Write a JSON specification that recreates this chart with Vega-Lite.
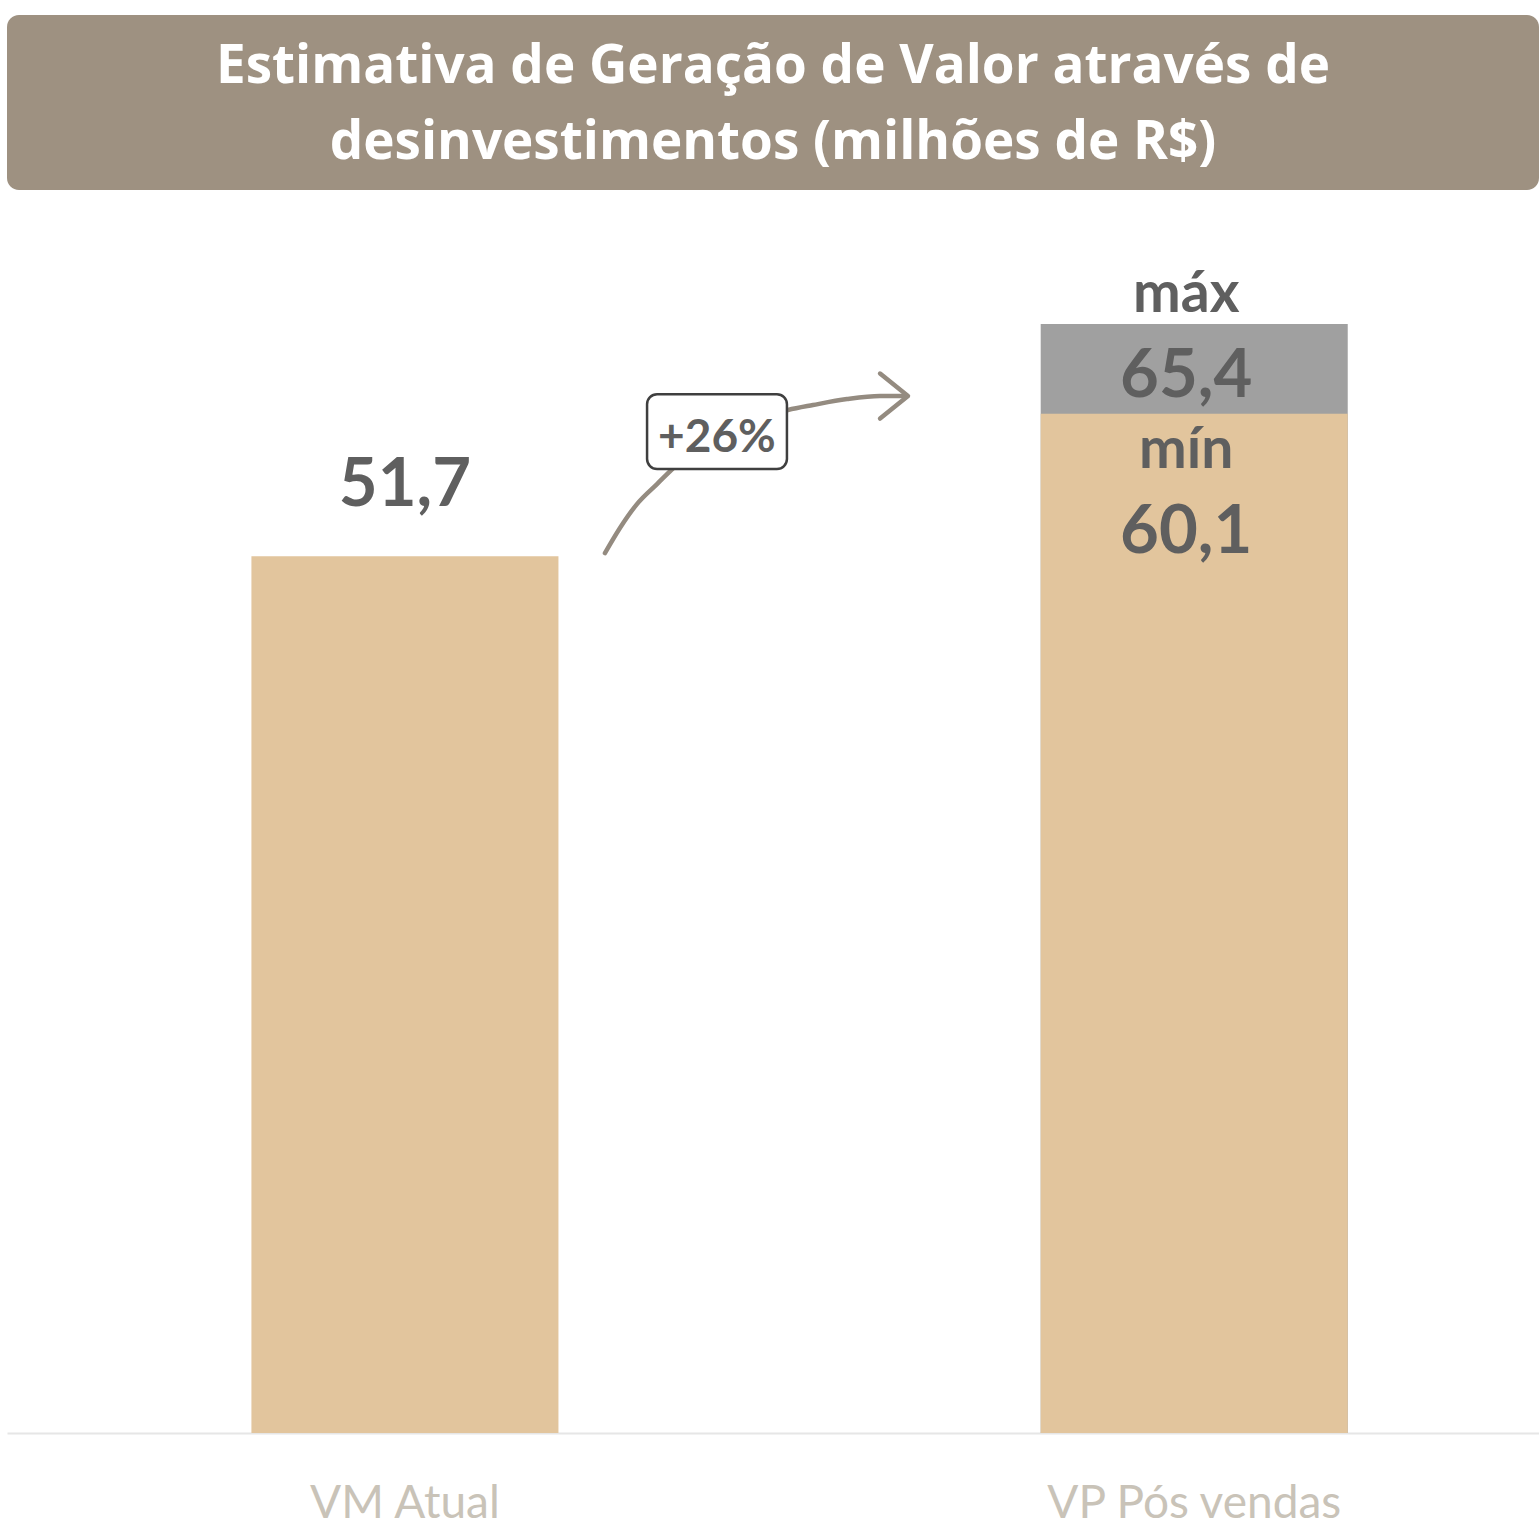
{
  "$schema": "https://vega.github.io/schema/vega-lite/v6.json",
  "background": "white",
  "padding": {"left": 7, "top": 15, "right": 0, "bottom": 0},
  "spacing": 0,
  "config": {
    "view": {"stroke": null},
    "locale": {"number": {"decimal": ",", "thousands": ".", "grouping": [3], "currency": ["R$ ", ""]}}
  },
  "vconcat": [
    {
      "width": 1532,
      "height": 175,
      "view": {"fill": "#9e9181", "stroke": null, "cornerRadius": 12},
      "data": {"values": [{"titulo": "Estimativa de Geração de Valor através de desinvestimentos (milhões de R$)"}]},
      "mark": {
        "type": "text",
        "text": ["Estimativa de Geração de Valor através de", "desinvestimentos (milhões de R$)"],
        "font": "Open Sans",
        "fontWeight": "bold",
        "fontSize": 53,
        "lineHeight": 76,
        "color": "white",
        "align": "center",
        "baseline": "middle",
        "dy": -36
      }
    },
    {
      "width": 1532,
      "height": 1243,
      "resolve": {"scale": {"x": "independent"}},
      "layer": [
        {
          "data": {"values": [
            {"categoria": "VM Atual", "faixa": "atual", "valor": 51.7},
            {"categoria": "VP Pós vendas", "faixa": "máx", "valor": 65.4},
            {"categoria": "VP Pós vendas", "faixa": "mín", "valor": 60.1}
          ]},
          "encoding": {
            "x": {
              "field": "categoria", "type": "nominal", "sort": null,
              "scale": {"domain": ["VM Atual", "VP Pós vendas"], "paddingInner": 0.611, "paddingOuter": 0.276, "align": 0.561},
              "axis": {
                "title": null, "labelAngle": 0, "labelFont": "Lato", "labelFontSize": 46, "labelLimit": 800,
                "labelColor": "#c9c3b8", "labelPadding": 48, "ticks": false, "tickSize": 0,
                "domainColor": "#e6e6e6", "domainWidth": 2, "grid": false, "labelBaseline": "top"
              }
            },
            "y": {"field": "valor", "type": "quantitative", "stack": null, "scale": {"domain": [0, 73.3], "nice": false, "zero": true}, "axis": null}
          },
          "layer": [
            {
              "mark": {"type": "bar", "stroke": null},
              "encoding": {
                "color": {
                  "field": "faixa", "type": "nominal",
                  "scale": {"domain": ["atual", "mín", "máx"], "range": ["#e2c59d", "#e2c59d", "#a0a0a0"]},
                  "legend": null
                }
              }
            },
            {
              "transform": [{"filter": "datum.faixa === 'atual'"}],
              "mark": {"type": "text", "font": "Lato", "fontWeight": "bold", "fontSize": 67, "color": "#5f5f5f", "baseline": "alphabetic", "dy": -50},
              "encoding": {"text": {"field": "valor", "type": "quantitative", "format": ".1f"}}
            },
            {
              "transform": [{"filter": "datum.faixa === 'máx'"}],
              "mark": {"type": "text", "font": "Lato", "fontWeight": "bold", "fontSize": 57, "color": "#5f5f5f", "baseline": "alphabetic", "dy": -12, "dx": -8},
              "encoding": {"text": {"field": "faixa", "type": "nominal"}}
            },
            {
              "transform": [{"filter": "datum.faixa === 'máx'"}],
              "mark": {"type": "text", "font": "Lato", "fontWeight": "bold", "fontSize": 67, "color": "#5f5f5f", "baseline": "alphabetic", "dy": 73, "dx": -8},
              "encoding": {"text": {"field": "valor", "type": "quantitative", "format": ".1f"}}
            },
            {
              "transform": [{"filter": "datum.faixa === 'mín'"}],
              "mark": {"type": "text", "font": "Lato", "fontWeight": "bold", "fontSize": 57, "color": "#5f5f5f", "baseline": "alphabetic", "dy": 54, "dx": -8},
              "encoding": {"text": {"field": "faixa", "type": "nominal"}}
            },
            {
              "transform": [{"filter": "datum.faixa === 'mín'"}],
              "mark": {"type": "text", "font": "Lato", "fontWeight": "bold", "fontSize": 67, "color": "#5f5f5f", "baseline": "alphabetic", "dy": 139, "dx": -8},
              "encoding": {"text": {"field": "valor", "type": "quantitative", "format": ".1f"}}
            }
          ]
        },
        {
          "layer": [
            {
              "data": {"values": [
                {"p": 0.3903, "v": 51.89},
                {"p": 0.4001, "v": 53.37},
                {"p": 0.4112, "v": 54.78},
                {"p": 0.4243, "v": 55.96},
                {"p": 0.4393, "v": 57.26},
                {"p": 0.4589, "v": 58.56},
                {"p": 0.4817, "v": 59.56},
                {"p": 0.5098, "v": 60.33},
                {"p": 0.5261, "v": 60.62},
                {"p": 0.5483, "v": 60.97},
                {"p": 0.5698, "v": 61.15},
                {"p": 0.5868, "v": 61.15}
              ]},
              "mark": {"type": "line", "interpolate": "monotone", "color": "#948b80", "strokeWidth": 4.5, "strokeCap": "round"},
              "encoding": {
                "x": {"field": "p", "type": "quantitative", "scale": {"domain": [0, 1], "nice": false, "zero": false}, "axis": null},
                "y": {"field": "v", "type": "quantitative", "scale": {"domain": [0, 73.3], "nice": false, "zero": true}, "axis": null}
              }
            },
            {
              "data": {"values": [{}]},
              "mark": {"type": "point", "shape": "M-1.24,-1L0,0L-1.24,1", "filled": false, "size": 2025, "stroke": "#948b80", "strokeWidth": 4.5, "strokeCap": "round", "strokeJoin": "round", "opacity": 1},
              "encoding": {
                "x": {"datum": 0.5881, "type": "quantitative", "scale": {"domain": [0, 1], "nice": false, "zero": false}, "axis": null},
                "y": {"datum": 61.15, "type": "quantitative", "scale": {"domain": [0, 73.3], "nice": false, "zero": true}, "axis": null}
              }
            },
            {
              "data": {"values": [{}]},
              "mark": {"type": "rect", "fill": "white", "stroke": "#3f3f3f", "strokeWidth": 2.5, "cornerRadius": 10},
              "encoding": {
                "x": {"datum": 0.4178, "type": "quantitative", "scale": {"domain": [0, 1], "nice": false, "zero": false}, "axis": null},
                "x2": {"datum": 0.5091},
                "y": {"datum": 61.26, "type": "quantitative", "scale": {"domain": [0, 73.3], "nice": false, "zero": true}, "axis": null},
                "y2": {"datum": 56.84}
              }
            },
            {
              "data": {"values": [{}]},
              "mark": {"type": "text", "text": "+26%", "font": "Lato", "fontWeight": "bold", "fontSize": 46, "color": "#5f5f5f", "baseline": "alphabetic", "align": "center"},
              "encoding": {
                "x": {"datum": 0.4634, "type": "quantitative", "scale": {"domain": [0, 1], "nice": false, "zero": false}, "axis": null},
                "y": {"datum": 57.85, "type": "quantitative", "scale": {"domain": [0, 73.3], "nice": false, "zero": true}, "axis": null}
              }
            }
          ]
        }
      ]
    }
  ]
}
